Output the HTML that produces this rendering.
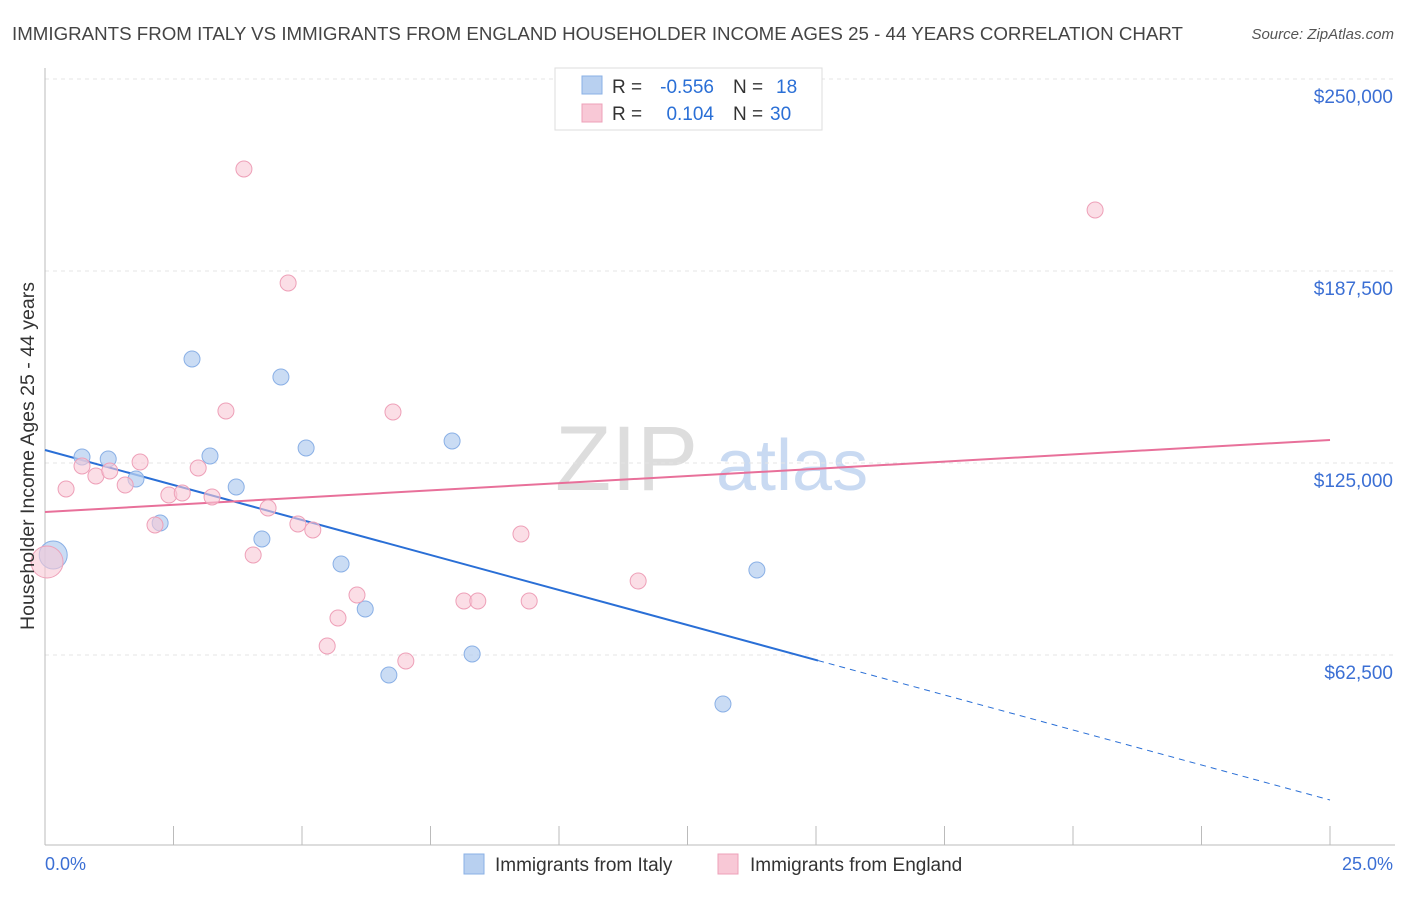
<!DOCTYPE html>
<html><head><meta charset="utf-8"><style>
body{margin:0;background:#fff;font-family:"Liberation Sans",sans-serif;}
svg text{font-family:"Liberation Sans",sans-serif;}
</style></head><body>
<svg id="chart" width="1406" height="892" xmlns="http://www.w3.org/2000/svg">
<text x="12" y="40" font-size="18" fill="#444" textLength="1171" lengthAdjust="spacingAndGlyphs">IMMIGRANTS FROM ITALY VS IMMIGRANTS FROM ENGLAND HOUSEHOLDER INCOME AGES 25 - 44 YEARS CORRELATION CHART</text>
<text x="1394" y="39" font-size="15" fill="#555" text-anchor="end" font-style="italic">Source: ZipAtlas.com</text>
<g><text x="555" y="490" font-size="92" fill="#ddd" font-family="Liberation Serif, serif">ZIP</text><text x="716" y="490" font-size="72" fill="#c9daf2">atlas</text></g>
<g id="grid"></g><g id="axes"></g><g id="lines"></g><g id="pts"></g>
<g>
<rect x="555" y="68" width="267" height="62" fill="#fff" stroke="#ddd"/>
<rect x="582" y="76" width="20" height="18" fill="#b8d0f0" stroke="#8ab0e6"/>
<rect x="582" y="104" width="20" height="18" fill="#f8c8d6" stroke="#eea0b8"/>
<text x="612" y="93" font-size="19" fill="#333">R =</text>
<text x="714" y="93" font-size="19" fill="#2a6fd6" text-anchor="end">-0.556</text>
<text x="733" y="93" font-size="19" fill="#333">N =</text>
<text x="776" y="93" font-size="19" fill="#2a6fd6">18</text>
<text x="612" y="120" font-size="19" fill="#333">R =</text>
<text x="714" y="120" font-size="19" fill="#2a6fd6" text-anchor="end">0.104</text>
<text x="733" y="120" font-size="19" fill="#333">N =</text>
<text x="770" y="120" font-size="19" fill="#2a6fd6">30</text>
</g>
<text transform="translate(34,456) rotate(-90)" font-size="19.5" fill="#333" text-anchor="middle">Householder Income Ages 25 - 44 years</text>
<text x="45" y="870" font-size="18" fill="#3b6fd4">0.0%</text>
<text x="1393" y="870" font-size="18" fill="#3b6fd4" text-anchor="end">25.0%</text>
<g><rect x="464" y="854" width="20" height="20" fill="#b8d0f0" stroke="#8ab0e6"/><text x="495" y="871" font-size="19" fill="#333">Immigrants from Italy</text></g>
<g><rect x="718" y="854" width="20" height="20" fill="#f8c8d6" stroke="#eea0b8"/><text x="750" y="871" font-size="19" fill="#333">Immigrants from England</text></g>
</svg>
<script>
const yTicks=[62500,125000,187500,250000];
const yTickLabels=["$62,500","$125,000","$187,500","$250,000"];
const italyX=[0.16,0.72,1.23,1.77,2.24,2.86,3.21,3.72,4.22,4.59,5.08,5.76,6.23,6.69,7.92,8.31,13.19,13.85];
const italyY=[95052,126953,126302,119792,105469,158854,127279,117188,100260,152995,129883,92122,77474,55990,132161,62826,46549,90169];
const italySize=[14,8,8,8,8,8,8,8,8,8,8,8,8,8,8,8,8,8];
const englandX=[0.04,0.41,0.72,0.99,1.26,1.56,1.85,2.14,2.41,2.67,2.98,3.25,3.52,3.87,4.05,4.34,4.73,4.92,5.21,5.70,5.49,6.07,6.77,7.02,8.15,8.42,9.26,9.42,11.54,20.43];
const englandY=[92773,116536,124023,120768,122396,117839,125326,104818,114583,115234,123372,113932,141927,220703,95052,110352,183594,105143,103190,74544,65430,82031,141602,60547,80078,80078,101888,80078,86589,207357];
const englandSize=[16,8,8,8,8,8,8,8,8,8,8,8,8,8,8,8,8,8,8,8,8,8,8,8,8,8,8,8,8,8];
const italyTrend=[129232,15300];
const italySolidEnd=15.04;
const englandTrend=[109049,132487];
const NS="http://www.w3.org/2000/svg";
const sx=p=>45+p*51.4;
const sy=v=>79+(250000-v)*192/62500;
function mk(parent,tag,attrs){const e=document.createElementNS(NS,tag);for(const k in attrs)e.setAttribute(k,attrs[k]);document.getElementById(parent).appendChild(e);return e;}
yTicks.forEach((t,i)=>{
 const g=mk('grid','line',{x1:45,x2:1395,y1:sy(t),y2:sy(t),stroke:'#e4e4e4','stroke-dasharray':'4,4'});
 
 
 const tx=mk('grid','text',{x:1393,y:sy(t)+24,'font-size':19,fill:'#3b6fd4','text-anchor':'end'});
 tx.textContent=yTickLabels[i];
 
 
});
const topLine=mk('grid','line',{x1:45,x2:1395,y1:79,y2:79,stroke:'#e4e4e4','stroke-dasharray':'4,4'});


const xa=mk('axes','line',{x1:45,x2:1395,y1:845,y2:845,stroke:'#bbb'});


const ya=mk('axes','line',{x1:45,x2:45,y1:68,y2:845,stroke:'#bbb'});


for(let i=0;i<=10;i++){const t=mk('axes','line',{x1:sx(i*2.5),x2:sx(i*2.5),y1:826,y2:845,stroke:'#bbb'});
 
 }
const ity=p=>italyTrend[0]+(italyTrend[1]-italyTrend[0])*p/25;
const l1=mk('lines','line',{x1:sx(0),y1:sy(ity(0)),x2:sx(italySolidEnd),y2:sy(ity(italySolidEnd)),stroke:'#2a6fd6','stroke-width':2});


const l2=mk('lines','line',{x1:sx(italySolidEnd),y1:sy(ity(italySolidEnd)),x2:sx(25),y2:sy(ity(25)),stroke:'#2a6fd6','stroke-width':1,'stroke-dasharray':'6,5'});


const l3=mk('lines','line',{x1:sx(0),y1:sy(englandTrend[0]),x2:sx(25),y2:sy(englandTrend[1]),stroke:'#e8709a','stroke-width':2});


italyX.forEach((x,i)=>{const c=mk('pts','circle',{cx:sx(x),cy:sy(italyY[i]),r:italySize[i],fill:'#b8d0f0','fill-opacity':0.75,stroke:'#8ab0e6','stroke-width':1});
 
 });
englandX.forEach((x,i)=>{const c=mk('pts','circle',{cx:sx(x),cy:sy(englandY[i]),r:englandSize[i],fill:'#f8c8d6','fill-opacity':0.6,stroke:'#eea0b8','stroke-width':1});
 
 });
</script>
</body></html>
